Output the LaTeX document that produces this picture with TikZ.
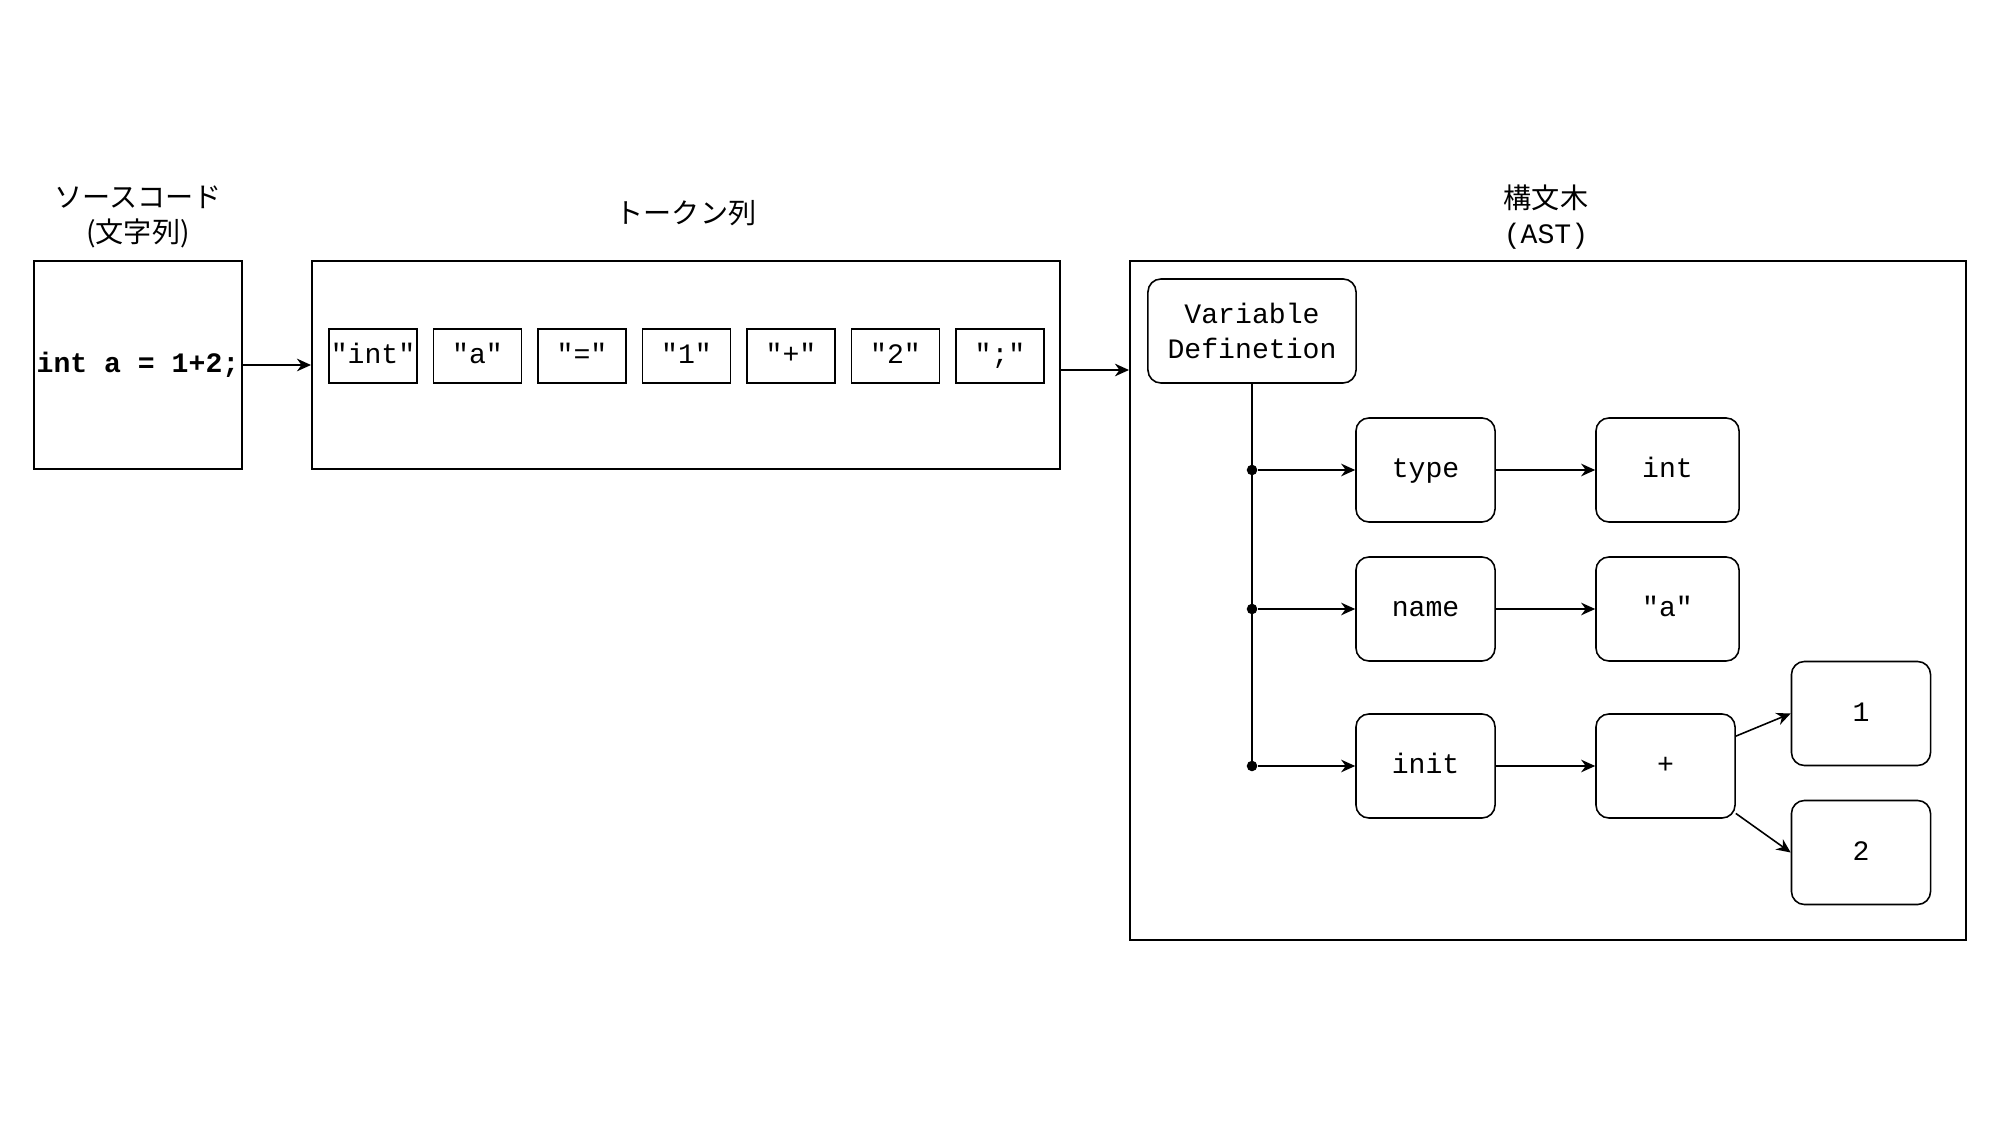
\documentclass[tikz,border=0pt]{standalone}
\usepackage{fontspec}
\setmonofont{Liberation Mono}
\newfontfamily\jpfont{Noto Sans CJK JP}
\usetikzlibrary{arrows.meta,positioning,calc}

\begin{document}
\begin{tikzpicture}[
    x=0.01cm, y=-0.01cm,
    font=\ttfamily\fontsize{8}{10}\selectfont,
    line width=0.45pt,
    >={Stealth[length=4pt,width=3.6pt]},
    frame/.style={draw, rectangle, inner sep=0pt},
    token/.style={draw, rectangle, minimum width=0.88cm, minimum height=0.54cm, inner sep=0pt},
    astnode/.style={draw, rounded corners=0.13cm, minimum width=1.39cm, minimum height=1.04cm, inner sep=0pt, align=center},
    leafnode/.style={astnode, text height=1.5ex, text depth=0.45ex},
    heading/.style={align=center},
    junction/.style={circle, fill, inner sep=0pt, minimum size=3pt}
]

\useasboundingbox (0,0) rectangle (2000,1125);

% Headings
\node (srctitle) at (138,217) [heading] {{\jpfont ソースコード}\\{\jpfont (文字列)}};
\node (toktitle) at (686,213) [heading] {\jpfont トークン列};
\node (asttitle) at (1546,217) [heading] {{\jpfont 構文木}\\(AST)};

% Source code
\node (src) at (138,365) [frame, minimum width=2.08cm, minimum height=2.08cm, font=\ttfamily\bfseries\fontsize{8}{10}\selectfont] {int a = 1+2;};

% Token list
\node (tokens) at (686,365) [frame, minimum width=7.48cm, minimum height=2.08cm] {};
\foreach \tok [count=\i] in {{"int"},{"a"},{"="},{"1"},{"+"},{"2"},{";"}}
    \node (t\i) at ({373+104.5*(\i-1)},356) [token, text height=1.5ex, text depth=0.45ex] {\tok};

% Syntax tree
\node (ast) at (1548,600.5) [frame, minimum width=8.36cm, minimum height=6.79cm] {};

\node (vd) at (1252,331) [astnode, minimum width=2.08cm] {Variable\\Definetion};
\node (type) at (1425.5,470) [leafnode] {type};
\node (int) at (1667.5,470) [leafnode, minimum width=1.43cm] {int};
\node (name) at (1425.5,609) [leafnode] {name};
\node (str) at (1667.5,609) [leafnode, minimum width=1.43cm] {"a"};
\node (init) at (1425.5,766) [leafnode] {init};
\node (plus) at (1665.5,766) [leafnode] {+};
\node (one) at (1861,713.5) [leafnode] {1};
\node (two) at (1861,852.5) [leafnode] {2};

% Junctions on the trunk
\node (j1) at (vd.south |- type.west) [junction] {};
\node (j2) at (vd.south |- name.west) [junction] {};
\node (j3) at (vd.south |- init.west) [junction] {};

% Connectors
\draw [->] (src) -- (tokens);
\draw [->] ([yshift=-0.05cm]tokens.east) -- ([yshift=-0.05cm]tokens.east -| ast.west);
\draw (vd.south) -- (j3.center);
\draw [->] (j1) -- (type);
\draw [->] (j2) -- (name);
\draw [->] (j3) -- (init);
\draw [->] (type) -- (int);
\draw [->] (name) -- (str);
\draw [->] (init) -- (plus);
\draw [->] (plus.23) -- (one.west);
\draw [->] (plus.-34) -- (two.west);

\end{tikzpicture}
\end{document}
